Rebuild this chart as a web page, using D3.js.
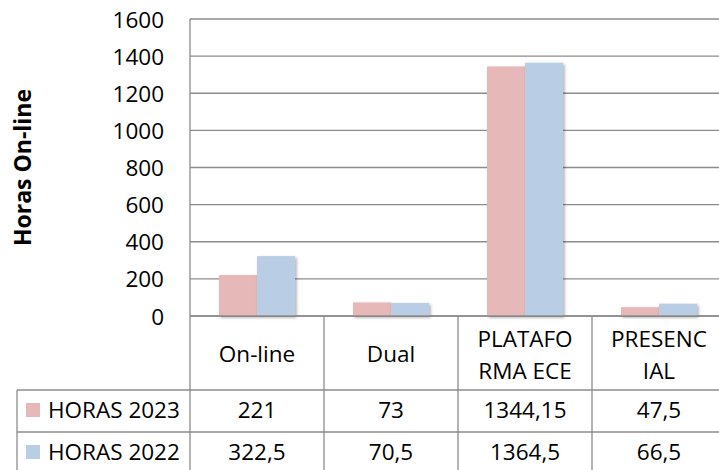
<!DOCTYPE html>
<html>
<head>
<meta charset="utf-8">
<script src="https://cdn.jsdelivr.net/npm/d3@7"></script>
<style>
  body { margin: 0; background: #fff; }
  svg { display: block; font-family: "Open Sans", Lato, sans-serif; }
</style>
</head>
<body>
<div id="chart"></div>
<script>
// chart data
const categories = ["On-line", "Dual", "PLATAFORMA ECE", "PRESENCIAL"];
const categoryLines = [["On-line"], ["Dual"], ["PLATAFO", "RMA ECE"], ["PRESENC", "IAL"]];
const seriesNames = ["HORAS 2023", "HORAS 2022"];
const hours2023 = [221, 73, 1344.15, 47.5];
const hours2022 = [322.5, 70.5, 1364.5, 66.5];
const yTicks = [0, 200, 400, 600, 800, 1000, 1200, 1400, 1600];
const yTitle = "Horas On-line";

const width = 719, height = 470;
const plot = { left: 190, right: 726, top: 19, bottom: 316 };
const headerBottom = 390, rowH = 42;
const tableLeft = 17;
const colors = ["#E6B9B8", "#B9CDE5"];
const lineColor = "#8c8c8c";
const fontSize = "22.5px";
const seriesValues = [hours2023, hours2022];

const svg = d3.select("#chart").append("svg")
    .attr("width", width)
    .attr("height", height);

// soft shadow for the bars
const defs = svg.append("defs");
const f = defs.append("filter").attr("id", "shadow")
    .attr("x", "-20%").attr("y", "-20%").attr("width", "150%").attr("height", "150%");
f.append("feDropShadow")
    .attr("dx", 1.5).attr("dy", 1.5).attr("stdDeviation", 1.6)
    .attr("flood-color", "#000").attr("flood-opacity", 0.35);

// scales
const x = d3.scaleBand()
    .domain(categories)
    .range([plot.left, plot.right])
    .padding(0);

const x1 = d3.scaleBand()
    .domain(seriesNames)
    .range([0, x.bandwidth()])
    .paddingInner(0)
    .paddingOuter(0.763);

const y = d3.scaleLinear()
    .domain([0, 1600])
    .range([plot.bottom, plot.top]);

// gridlines
svg.append("g")
    .selectAll("line")
    .data(yTicks)
    .join("line")
    .attr("x1", plot.left)
    .attr("x2", plot.right)
    .attr("y1", d => y(d))
    .attr("y2", d => y(d))
    .attr("stroke", lineColor)
    .attr("stroke-width", 1.3);

// y axis line
svg.append("line")
    .attr("x1", plot.left).attr("x2", plot.left)
    .attr("y1", plot.top).attr("y2", plot.bottom)
    .attr("stroke", lineColor).attr("stroke-width", 1.3);

// y tick labels
const yAxis = svg.append("g")
    .attr("transform", `translate(${plot.left},0)`)
    .call(d3.axisLeft(y).tickValues(yTicks).tickFormat(d3.format("d")).tickSize(0).tickPadding(26));
yAxis.select(".domain").remove();
yAxis.selectAll("text")
    .attr("dy", "0.36em")
    .style("font-family", "'Open Sans', Lato, sans-serif")
    .style("font-size", fontSize)
    .attr("fill", "#000");

// y title
svg.append("text")
    .attr("transform", `translate(31,${(plot.top + plot.bottom) / 2}) rotate(-90)`)
    .attr("text-anchor", "middle")
    .style("font-size", "23px")
    .style("font-weight", "bold")
    .text(yTitle);

// bars
const groups = svg.append("g")
    .selectAll("g")
    .data(categories)
    .join("g")
    .attr("transform", d => `translate(${x(d)},0)`);

groups.selectAll("rect")
    .data((d, i) => seriesNames.map((s, j) => ({ s, v: seriesValues[j][i], j })))
    .join("rect")
    .attr("x", d => x1(d.s))
    .attr("y", d => y(d.v))
    .attr("width", x1.bandwidth())
    .attr("height", d => y(0) - y(d.v))
    .attr("fill", d => colors[d.j])
    .attr("filter", "url(#shadow)");

// redraw zero line over bar shadows
svg.append("line")
    .attr("x1", plot.left).attr("x2", plot.right)
    .attr("y1", y(0)).attr("y2", y(0))
    .attr("stroke", lineColor).attr("stroke-width", 1.3);

// data table
const table = svg.append("g");
const bounds = categories.map(c => x(c)).concat([plot.right]);

// vertical lines
table.selectAll(".vline")
    .data(bounds)
    .join("line")
    .attr("class", "vline")
    .attr("x1", d => d).attr("x2", d => d)
    .attr("y1", plot.bottom).attr("y2", height)
    .attr("stroke", lineColor).attr("stroke-width", 1.3);

table.append("line")
    .attr("x1", tableLeft).attr("x2", tableLeft)
    .attr("y1", headerBottom).attr("y2", height)
    .attr("stroke", lineColor).attr("stroke-width", 1.3);

// horizontal lines
table.selectAll(".hline")
    .data([headerBottom, headerBottom + rowH])
    .join("line")
    .attr("class", "hline")
    .attr("x1", tableLeft).attr("x2", plot.right)
    .attr("y1", d => d).attr("y2", d => d)
    .attr("stroke", lineColor).attr("stroke-width", 1.3);

// category headers
categories.forEach((c, i) => {
    const lines = categoryLines[i];
    const cx = x(c) + x.bandwidth() / 2;
    const t = table.append("text")
        .attr("text-anchor", "middle")
        .style("font-size", fontSize);
    const baselines = lines.length === 1 ? [362] : [346.5, 379];
    lines.forEach((l, k) => {
        t.append("tspan").attr("x", cx).attr("y", baselines[k]).text(l);
    });
});

// series rows
const fmt = v => String(v).replace(".", ",");
seriesNames.forEach((s, j) => {
    const base = j === 0 ? 418 : 460;
    table.append("rect")
        .attr("x", 26).attr("y", base - 15)
        .attr("width", 14).attr("height", 14)
        .attr("fill", colors[j]);
    table.append("text")
        .attr("x", 48).attr("y", base)
        .style("font-size", fontSize)
        .text(s);
    categories.forEach((c, i) => {
        table.append("text")
            .attr("x", x(c) + x.bandwidth() / 2)
            .attr("y", base)
            .attr("text-anchor", "middle")
            .style("font-size", fontSize)
            .text(fmt(seriesValues[j][i]));
    });
});
</script>
</body>
</html>
